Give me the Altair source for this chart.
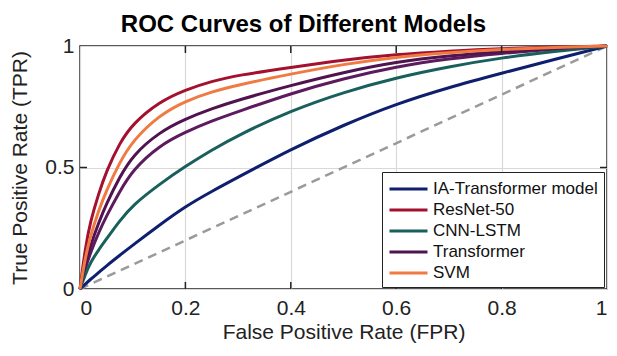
import altair as alt
import pandas as pd

# Data
fpr = [0, 0.01, 0.02, 0.035, 0.05, 0.075, 0.1, 0.15, 0.2, 0.25, 0.3, 0.4, 0.5, 0.6, 0.7, 0.8, 0.9, 1.0]
tpr_ia = [0, 0.02, 0.04, 0.067, 0.095, 0.138, 0.18, 0.262, 0.34, 0.402, 0.46, 0.575, 0.675, 0.762, 0.83, 0.888, 0.945, 1]
tpr_resnet = [0, 0.17, 0.28, 0.39, 0.485, 0.60, 0.68, 0.77, 0.82, 0.855, 0.88, 0.912, 0.943, 0.965, 0.979, 0.99, 0.996, 1]
tpr_cnnlstm = [0, 0.06, 0.11, 0.16, 0.205, 0.28, 0.345, 0.43, 0.505, 0.572, 0.633, 0.734, 0.81, 0.870, 0.915, 0.952, 0.978, 1]
tpr_transformer = [0, 0.10, 0.18, 0.27, 0.35, 0.46, 0.55, 0.645, 0.70, 0.742, 0.778, 0.838, 0.892, 0.935, 0.96, 0.977, 0.99, 1]
tpr_extra = [0, 0.085, 0.15, 0.23, 0.30, 0.40, 0.49, 0.59, 0.646, 0.692, 0.73, 0.805, 0.866, 0.915, 0.948, 0.97, 0.987, 1]
tpr_svm = [0, 0.13, 0.22, 0.32, 0.405, 0.52, 0.61, 0.715, 0.774, 0.812, 0.84, 0.885, 0.925, 0.955, 0.973, 0.986, 0.995, 1]

models = ["IA-Transformer model", "ResNet-50", "CNN-LSTM", "Transformer", "SVM"]
colors = ["#0e1f6e", "#a3112f", "#195f5c", "#4f1350", "#f07a42"]
series = [tpr_ia, tpr_resnet, tpr_cnnlstm, tpr_transformer, tpr_svm]

diag_x = [0, 1]
x_ticks = [0.2, 0.4, 0.6, 0.8]
y_ticks = [0.5]

rows = []
for m, vals in zip(models, series):
    for i, (x, y) in enumerate(zip(fpr, vals)):
        rows.append({"model": m, "fpr": x, "tpr": y, "order": i})
df = pd.DataFrame(rows)
df_extra = pd.DataFrame({"fpr": fpr, "tpr": tpr_extra})
df_diag = pd.DataFrame({"fpr": diag_x, "tpr": diag_x})
df_xt = pd.DataFrame({"v": x_ticks})
df_yt = pd.DataFrame({"v": y_ticks})

W, H = 527, 243
FONT = "Liberation Sans"
INTERP = "basis"

xscale = alt.Scale(domain=[0, 1], nice=False)
yscale = alt.Scale(domain=[0, 1], nice=False)
xaxis = alt.Axis(values=[0, 0.2, 0.4, 0.6, 0.8, 1], format="~g", title="False Positive Rate (FPR)",
                 grid=True, labelPadding=8, titlePadding=3)
yaxis = alt.Axis(values=[0, 0.5, 1], format="~g", title="True Positive Rate (TPR)",
                 grid=True, labelPadding=6, titlePadding=14)

diag = alt.Chart(df_diag).mark_line(color="#9a9a9a", strokeWidth=2.5, strokeDash=[9, 6]).encode(
    x=alt.X("fpr:Q", scale=xscale, axis=xaxis),
    y=alt.Y("tpr:Q", scale=yscale, axis=yaxis),
)

extra = alt.Chart(df_extra).mark_line(color="#5c1b5e", strokeWidth=3, interpolate=INTERP).encode(
    x=alt.X("fpr:Q", scale=xscale),
    y=alt.Y("tpr:Q", scale=yscale),
)

lines = alt.Chart(df).mark_line(strokeWidth=3, interpolate=INTERP).encode(
    x=alt.X("fpr:Q", scale=xscale),
    y=alt.Y("tpr:Q", scale=yscale),
    color=alt.Color("model:N", scale=alt.Scale(domain=models, range=colors),
                    legend=alt.Legend(title=None, orient="none", legendX=302, legendY=126,
                                      symbolType="M-1,0H3", symbolSize=361, symbolStrokeWidth=3,
                                      labelFont=FONT, labelFontSize=17, labelColor="#111",
                                      labelLimit=0,
                                      strokeColor="#222", fillColor="white", padding=6,
                                      rowPadding=2, labelOffset=23)),
    order="order:Q",
)

tb = alt.Chart(df_xt).mark_rule(color="#222", strokeWidth=1.5).encode(
    x=alt.X("v:Q", scale=xscale), y=alt.value(H), y2=alt.value(H - 7))
tt = alt.Chart(df_xt).mark_rule(color="#222", strokeWidth=1.5).encode(
    x=alt.X("v:Q", scale=xscale), y=alt.value(0), y2=alt.value(7))
tl = alt.Chart(df_yt).mark_rule(color="#222", strokeWidth=1.5).encode(
    y=alt.Y("v:Q", scale=yscale), x=alt.value(0), x2=alt.value(7))
tr = alt.Chart(df_yt).mark_rule(color="#222", strokeWidth=1.5).encode(
    y=alt.Y("v:Q", scale=yscale), x=alt.value(W), x2=alt.value(W - 7))

chart = alt.layer(diag, extra, lines, tb, tt, tl, tr).properties(
    width=W, height=H,
    background="white",
    title=alt.Title("ROC Curves of Different Models", font=FONT, fontSize=24, fontWeight="bold",
                    color="#000", anchor="middle", frame="group", dx=-40, dy=10, offset=8),
    autosize=alt.AutoSizeParams(type="none"),
    padding={"left": 72, "top": 38, "right": 2, "bottom": 59},
).configure_view(stroke="#222", strokeWidth=1.5).configure_axis(
    domain=False, ticks=False, gridColor="#d9d9d9", gridWidth=1.2,
    labelFont=FONT, labelFontSize=21, labelColor="#222",
    titleFont=FONT, titleFontSize=21, titleFontWeight="normal", titleColor="#222",
)

chart.save("out.html", embed_options={"renderer": "svg", "actions": False})
